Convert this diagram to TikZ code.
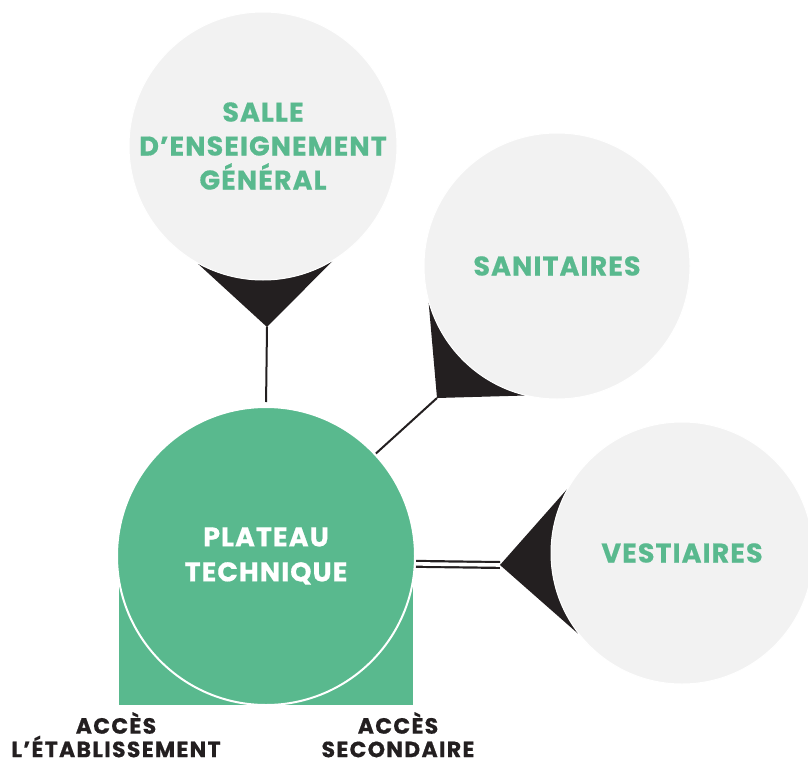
\documentclass[tikz,border=0pt]{standalone}
\usepackage{fontspec}
\newfontfamily\popfont{Poppins}[LetterSpace=4,BoldFeatures={FakeBold=0.6}]
\newfontfamily\popwide{Poppins}[LetterSpace=6,BoldFeatures={FakeBold=0.6}]
\definecolor{vert}{HTML}{59B98E}
\definecolor{gris}{HTML}{F2F2F2}
\definecolor{noir}{HTML}{231F20}
\pgfdeclarelayer{background}
\pgfsetlayers{background,main}
\begin{document}
\begin{tikzpicture}[x=1pt,y=-1pt,
  bulle/.style={circle,fill=gris,draw=white,line width=1pt,inner sep=0pt,text=vert,
    font=\popfont\bfseries\fontsize{27}{34}\selectfont,align=center},
  lien/.style={draw=noir,line width=2pt},
  pointe/.style={fill=noir},
  acces/.style={text=noir,inner sep=0pt,align=center,anchor=north,
    font=\popwide\bfseries\fontsize{22}{23.5}\selectfont}]
\useasboundingbox (0,0) rectangle (808,765);
% plateau
\fill[vert] (119,556) rectangle (413,705);
\node[circle,fill=vert,draw=white,line width=2pt,minimum size=298pt,inner sep=0pt,
  text=white,font=\popfont\bfseries\fontsize{27}{35}\selectfont,align=center]
  (plateau) at (266,556) {PLATEAU\\TECHNIQUE};
% bubbles
\node[bulle,minimum size=268pt] (salle) at (263,146) {SALLE\\D’ENSEIGNEMENT\\GÉNÉRAL};
\node[bulle,minimum size=266pt] (sanit) at (557,266) {SANITAIRES};
\node[bulle,minimum size=262pt] (vest) at (682,553) {VESTIAIRES};
% tips
\coordinate (ps) at (267,327);
\coordinate (pn) at (437,398);
\coordinate (pv) at (500,565);
\begin{pgfonlayer}{background}
\draw[lien,shorten >=4pt] (ps) -- (plateau.north);
\draw[lien] (pn) -- (plateau.43);
\draw[noir,line width=2.2pt,double=white,double distance=3.6pt] (plateau.-3) -- (pv);
\fill[pointe] (salle.241) -- (ps) -- (salle.301) -- cycle;
\fill[pointe] (sanit.196) -- (pn) -- (sanit.256) -- cycle;
\fill[pointe] (vest.151) -- (pv) -- (vest.218) -- cycle;
\end{pgfonlayer}
% labels
\node[acces] (acc1) at (116,712) {ACCÈS\\L’ÉTABLISSEMENT};
\node[acces] (acc2) at (398,712) {ACCÈS\\SECONDAIRE};
\end{tikzpicture}
\end{document}
